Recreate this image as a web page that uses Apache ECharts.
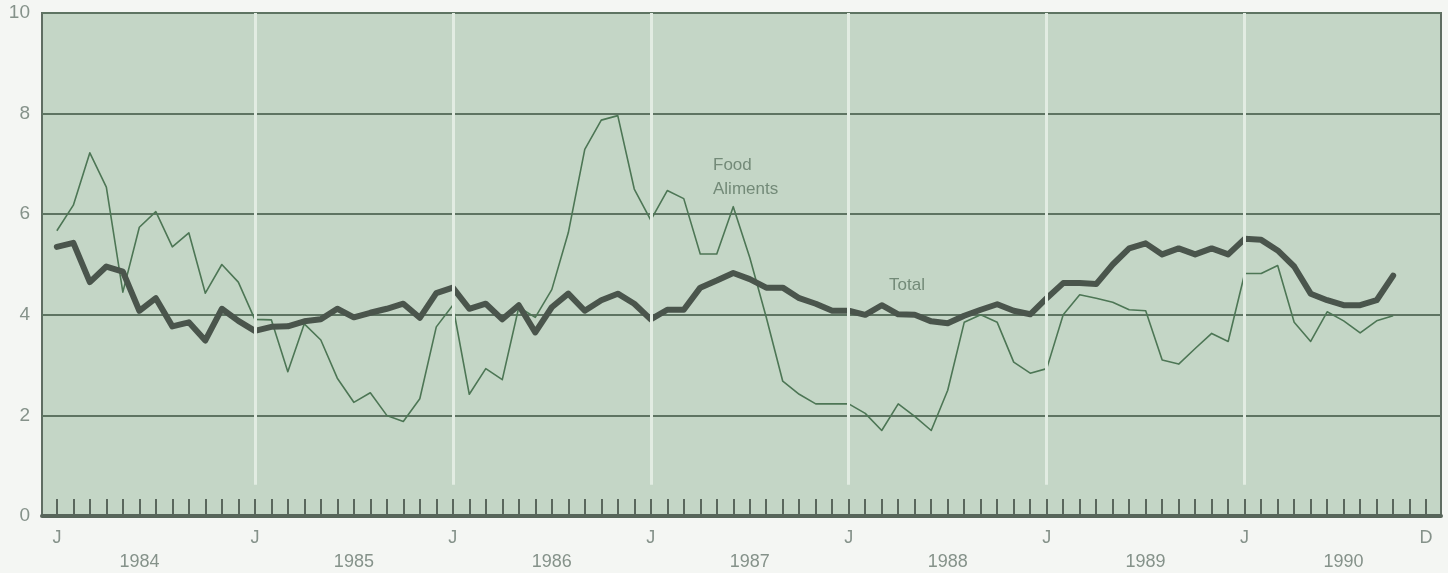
<!DOCTYPE html>
<html>
<head>
<meta charset="utf-8">
<script src="https://cdn.jsdelivr.net/npm/echarts@6/dist/echarts.min.js"></script>
<style>
  html, body { margin: 0; padding: 0; background: #f4f6f3; }
  #chart { width: 1448px; height: 573px; }
</style>
</head>
<body>
<div id="chart"></div>
<script>
// ---- data (monthly, Jan 1984 .. Oct 1990) ----
const years = [1984, 1985, 1986, 1987, 1988, 1989, 1990];
const monthLetters = ['J','F','M','A','M','J','J','A','S','O','N','D'];
const yTicks = [0, 2, 4, 6, 8, 10];

const food = [
  5.67, 6.18, 7.22, 6.54, 4.45, 5.74, 6.05, 5.35, 5.63, 4.43, 5.00, 4.65,
  3.91, 3.90, 2.87, 3.82, 3.50, 2.74, 2.26, 2.45, 2.00, 1.88, 2.33, 3.76,
  4.19, 2.42, 2.93, 2.71, 4.15, 3.95, 4.50, 5.63, 7.29, 7.87, 7.96, 6.50,
  5.88, 6.47, 6.31, 5.21, 5.21, 6.15, 5.14, 3.95, 2.68, 2.42, 2.23, 2.23,
  2.23, 2.04, 1.70, 2.23, 1.98, 1.70, 2.50, 3.85, 4.00, 3.85, 3.06, 2.84,
  2.93, 4.00, 4.40, 4.33, 4.25, 4.10, 4.08, 3.10, 3.02, 3.33, 3.63, 3.47,
  4.82, 4.82, 4.98, 3.85, 3.47, 4.06, 3.88, 3.64, 3.88, 3.98
];
const total = [
  5.35, 5.43, 4.65, 4.96, 4.86, 4.08, 4.33, 3.77, 3.85, 3.49, 4.12, 3.88,
  3.68, 3.76, 3.77, 3.87, 3.91, 4.12, 3.95, 4.04, 4.12, 4.22, 3.94, 4.43,
  4.54, 4.12, 4.22, 3.91, 4.19, 3.65, 4.15, 4.42, 4.08, 4.29, 4.42, 4.22,
  3.91, 4.10, 4.10, 4.54, 4.68, 4.83, 4.71, 4.54, 4.54, 4.33, 4.22, 4.08,
  4.08, 4.00, 4.19, 4.01, 4.00, 3.87, 3.83, 3.98, 4.10, 4.21, 4.08, 4.01,
  4.33, 4.63, 4.63, 4.61, 5.00, 5.32, 5.42, 5.20, 5.32, 5.20, 5.32, 5.20,
  5.51, 5.49, 5.28, 4.96, 4.42, 4.29, 4.19, 4.19, 4.29, 4.78
];
const seriesNames = ['Food / Aliments', 'Total'];
const foodLabel = ['Food', 'Aliments'];
const totalLabel = 'Total';

// ---- derived ----
const months = [];
years.forEach(y => monthLetters.forEach((m, i) => months.push(y + '-' + (i + 1))));
const nMonths = months.length; // 84
const yearStarts = years.slice(1).map((y, k) => (k + 1) * 12); // Jan 1985..1990
const yearLabelIdx = years.map((y, k) => k === 0 ? 5 : k * 12 + 6);

const foodData = food.map((v, i) => [i, v]);
const totalData = total.map((v, i) => [i, v]);

const txtColor = '#85928a';
const fontFamily = '"Liberation Sans", Arial, sans-serif';

const chart = echarts.init(document.getElementById('chart'), null, { renderer: 'canvas' });
chart.setOption({
  backgroundColor: '#f4f6f3',
  animation: false,
  grid: [
    { left: 42, right: 7, top: 13, bottom: 57, show: true, backgroundColor: '#c4d6c6',
      borderColor: '#5f6d62', borderWidth: 2, z: 0 },
    { left: 57, right: 22, top: 13, bottom: 57, show: false }
  ],
  xAxis: [
    { type: 'value', gridIndex: 0, min: -0.9, max: 83.9, z: 6,
      axisLine: { show: true, onZero: false, lineStyle: { color: '#57655a', width: 4 } },
      axisTick: { show: false }, axisLabel: { show: false }, splitLine: { show: false } },
    { type: 'category', gridIndex: 1, data: months, boundaryGap: false, z: 5,
      axisLine: { show: false },
      axisTick: { show: true, inside: true, length: 17, interval: 0,
                  lineStyle: { color: '#5a675d', width: 2 } },
      axisLabel: { interval: 0, margin: 13, color: txtColor, fontSize: 18, fontFamily: fontFamily,
        formatter: (v, i) => (i % 12 === 0 ? 'J' : (i === nMonths - 1 ? 'D' : '')) },
      splitLine: { show: false } },
    { type: 'category', gridIndex: 1, data: months, boundaryGap: false, position: 'bottom',
      axisLine: { show: false }, axisTick: { show: false },
      axisLabel: { interval: 0, margin: 37, color: txtColor, fontSize: 18, fontFamily: fontFamily,
        formatter: (v, i) => { const k = yearLabelIdx.indexOf(i); return k >= 0 ? String(years[k]) : ''; } },
      splitLine: { show: false } }
  ],
  yAxis: [
    { type: 'value', gridIndex: 0, min: 0, max: 10, interval: 2, z: 2,
      axisLine: { show: false }, axisTick: { show: false },
      axisLabel: { color: txtColor, fontSize: 19, fontFamily: fontFamily, margin: 12 },
      splitLine: { show: true, lineStyle: { color: '#5e7462', width: 2 } } },
    { type: 'value', gridIndex: 1, min: 0, max: 10, show: false, splitLine: { show: false } }
  ],
  series: [
    { type: 'line', name: 'yearLines', xAxisIndex: 0, yAxisIndex: 0, data: [], z: 1, silent: true,
      markLine: { silent: true, symbol: ['none', 'none'], label: { show: false },
        lineStyle: { color: '#e2ece2', width: 3, type: 'solid' },
        data: yearStarts.map(i => [{ coord: [i, 0.62] }, { coord: [i, 10] }]) } },
    { type: 'line', name: seriesNames[0], xAxisIndex: 0, yAxisIndex: 0, data: foodData, z: 3,
      symbol: 'none', lineStyle: { color: '#4d7655', width: 1.6, join: 'round' } },
    { type: 'line', name: seriesNames[1], xAxisIndex: 0, yAxisIndex: 0, data: totalData, z: 4,
      symbol: 'none', lineStyle: { color: '#4a554c', width: 6, join: 'round', cap: 'round' } }
  ],
  graphic: [
    { type: 'text', left: 713, top: 153, z: 10,
      style: { text: foodLabel.join('\n'), fill: '#738a78', font: '17px ' + fontFamily, lineHeight: 24 } },
    { type: 'text', left: 889, top: 277, z: 10,
      style: { text: totalLabel, fill: '#738a78', font: '17px ' + fontFamily } }
  ]
});
</script>
</body>
</html>
